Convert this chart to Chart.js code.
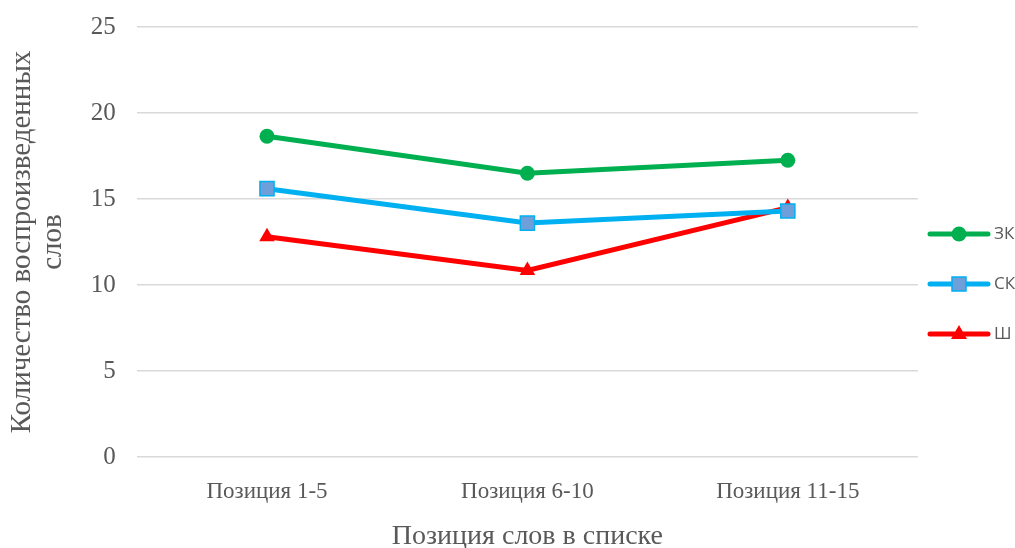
<!DOCTYPE html>
<html>
<head>
<meta charset="utf-8">
<script src="https://cdn.jsdelivr.net/npm/chart.js@4.4.0/dist/chart.umd.min.js"></script>
<style>
  body { margin: 0; background: #fff; }
  #wrap { width: 1015px; height: 548px; }
</style>
</head>
<body>
<div id="wrap"><canvas id="chart"></canvas></div>
<script>
const categories = ['Позиция 1-5', 'Позиция 6-10', 'Позиция 11-15'];
const zkValues = [18.65, 16.5, 17.25];
const skValues = [15.6, 13.6, 14.3];
const shValues = [12.8, 10.85, 14.5];
const yTicks = [0, 5, 10, 15, 20, 25];

const series = [
  { label: 'ЗК', data: zkValues, color: '#00B050', fill: '#00B050', style: 'circle', r: 7.5 },
  { label: 'СК', data: skValues, color: '#00B0F0', fill: '#6F9FDB', style: 'rect', r: 10 },
  { label: 'Ш', data: shValues, color: '#FF0000', fill: '#FF0000', style: 'triangle', r: 9 }
];

const serif = 'Liberation Serif';
const grey = '#595959';

// legend on the right: line with the marker in the middle, like Excel draws it
const sideLegend = {
  id: 'sideLegend',
  afterDraw(chart) {
    const g = chart.ctx;
    const x0 = chart.chartArea.right + 12;
    const mid = chart.height / 2 + 10;
    g.save();
    series.forEach((s, i) => {
      const y = mid + (i - 1) * 50;
      g.strokeStyle = s.color; g.lineWidth = 5; g.lineCap = 'round';
      g.beginPath(); g.moveTo(x0, y); g.lineTo(x0 + 58, y); g.stroke();
      g.fillStyle = s.fill; g.strokeStyle = s.color; g.lineWidth = 1.5;
      g.beginPath();
      if (s.style === 'circle') g.arc(x0 + 29, y, s.r, 0, Math.PI * 2);
      else if (s.style === 'rect') g.rect(x0 + 22, y - 7, 14, 14);
      else { g.moveTo(x0 + 29, y - 9); g.lineTo(x0 + 37, y + 5); g.lineTo(x0 + 21, y + 5); g.closePath(); }
      g.fill();
      if (s.style === 'rect') g.stroke();
      g.fillStyle = grey;
      g.font = '17px "Open Sans"';
      g.textBaseline = 'middle';
      g.fillText(s.label, x0 + 64, y);
    });
    g.restore();
  }
};

new Chart(document.getElementById('chart'), {
  type: 'line',
  data: {
    labels: categories,
    datasets: series.map(s => ({
      label: s.label,
      data: s.data,
      borderColor: s.color,
      backgroundColor: s.fill,
      pointBackgroundColor: s.fill,
      pointBorderColor: s.color,
      pointBorderWidth: s.style === 'rect' ? 1.5 : 0,
      pointStyle: s.style,
      pointRadius: s.r,
      borderWidth: 5,
      tension: 0
    }))
  },
  plugins: [sideLegend],
  options: {
    responsive: true,
    maintainAspectRatio: false,
    animation: false,
    layout: { autoPadding: false, padding: { top: 0, right: 97, bottom: 0, left: 6 } },
    plugins: {
      legend: { display: false },
      tooltip: { enabled: false }
    },
    scales: {
      x: {
        offset: true,
        grid: { display: false },
        border: { display: false },
        ticks: { color: grey, font: { family: serif, size: 23 }, padding: 13 },
        title: {
          display: true,
          text: 'Позиция слов в списке',
          color: grey,
          font: { family: serif, size: 28, lineHeight: 0.8 },
          padding: { top: 7, bottom: 0 }
        }
      },
      y: {
        min: 0,
        max: 25,
        afterBuildTicks: axis => { axis.ticks = yTicks.map(v => ({ value: v })); },
        // tick padding would otherwise be added above the top label too
        afterFit: axis => { axis.paddingTop = 27; },
        grid: { color: '#D9D9D9', lineWidth: 1.5, drawTicks: false },
        border: { display: false },
        ticks: { color: grey, font: { family: serif, size: 25, lineHeight: 1.0 }, padding: 21 },
        title: {
          display: true,
          text: ['Количество воспроизведенных', 'слов'],
          color: grey,
          font: { family: serif, size: 29, lineHeight: 1.1 },
          padding: { top: 0, bottom: 0 }
        }
      }
    }
  }
});
</script>
</body>
</html>
